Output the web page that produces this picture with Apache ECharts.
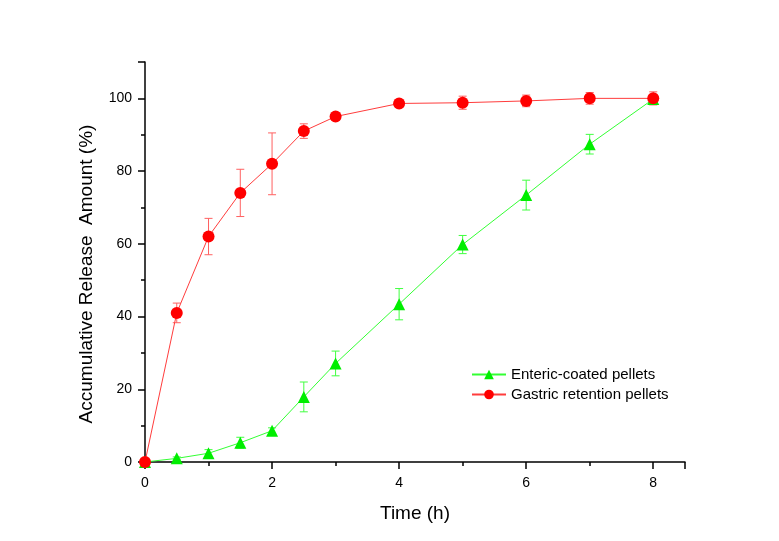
<!DOCTYPE html>
<html>
<head>
<meta charset="utf-8">
<script src="https://cdn.jsdelivr.net/npm/echarts@6/dist/echarts.min.js"></script>
<style>
  html, body { margin: 0; padding: 0; background: #fff; }
  #chart { width: 779px; height: 541px; }
</style>
</head>
<body>
<div id="chart"></div>
<script>
// time points (h)
const times = [0, 0.5, 1, 1.5, 2, 2.5, 3, 4, 5, 6, 7, 8];
const gastric = [0, 41, 62, 74, 82, 91, 95, 98.6, 98.8, 99.3, 100, 100];
const gastricErr = [0, 2.7, 5, 6.5, 8.5, 2, 0.6, 0.5, 1.8, 1.6, 1.6, 1.8];
const enteric = [0, 1, 2.4, 5.3, 8.6, 17.9, 27.1, 43.4, 59.8, 73.4, 87.4, 99.8];
const entericErr = [0, 0.4, 1, 1.5, 0.8, 4.1, 3.4, 4.3, 2.5, 4.1, 2.7, 1];

const font = 'Liberation Sans, Arial, sans-serif';

function pts(ys) {
  return times.map((t, i) => [t, ys[i]]);
}
function errPts(ys, es) {
  return times.map((t, i) => [t, ys[i] - es[i], ys[i] + es[i]]);
}

// vertical error bar with caps
function errorBar(color) {
  return function (params, api) {
    const lo = api.coord([api.value(0), api.value(1)]);
    const hi = api.coord([api.value(0), api.value(2)]);
    const w = 4;
    const style = { stroke: color, lineWidth: 1 };
    return {
      type: 'group',
      children: [
        { type: 'line', shape: { x1: hi[0], y1: hi[1], x2: lo[0], y2: lo[1] }, style: style },
        { type: 'line', shape: { x1: hi[0] - w, y1: hi[1], x2: hi[0] + w, y2: hi[1] }, style: style },
        { type: 'line', shape: { x1: lo[0] - w, y1: lo[1], x2: lo[0] + w, y2: lo[1] }, style: style }
      ]
    };
  };
}

const chart = echarts.init(document.getElementById('chart'), null, { renderer: 'canvas' });

chart.setOption({
  backgroundColor: '#fff',
  animation: false,
  grid: { left: 145, right: 94, top: 62, bottom: 79 },
  legend: {
    left: 466, top: 362,
    orient: 'vertical',
    itemGap: 5,
    itemWidth: 34, itemHeight: 12,
    textStyle: { fontFamily: font, fontSize: 15, color: '#000' },
    data: ['Enteric-coated pellets', 'Gastric retention pellets']
  },
  xAxis: {
    type: 'value',
    min: 0, max: 8.5, interval: 2,
    name: 'Time (h)',
    nameLocation: 'middle',
    nameGap: 42,
    nameTextStyle: { fontFamily: font, fontSize: 19, color: '#000' },
    axisLine: { lineStyle: { color: '#000', width: 1.5 } },
    axisTick: { length: 7, lineStyle: { color: '#000', width: 1.5 } },
    minorTick: { show: true, splitNumber: 2, length: 4, lineStyle: { color: '#000', width: 1.5 } },
    axisLabel: { fontFamily: font, fontSize: 14, color: '#000', margin: 14, showMaxLabel: false },
    splitLine: { show: false }
  },
  yAxis: {
    type: 'value',
    min: 0, max: 110, interval: 20,
    name: 'Accumulative Release  Amount (%)',
    nameLocation: 'middle',
    nameGap: 49,
    // name sits a bit below the axis middle
    nameTextStyle: { fontFamily: font, fontSize: 19, color: '#000', padding: [0, 24, 0, 0] },
    axisLine: { show: true, lineStyle: { color: '#000', width: 1.5 } },
    axisTick: { show: true, length: 7, lineStyle: { color: '#000', width: 1.5 } },
    minorTick: { show: true, splitNumber: 2, length: 4, lineStyle: { color: '#000', width: 1.5 } },
    axisLabel: { fontFamily: font, fontSize: 14, color: '#000', margin: 13, showMaxLabel: false },
    splitLine: { show: false }
  },
  series: [
    {
      type: 'custom',
      name: 'gastricErr',
      renderItem: errorBar('#ff6060'),
      data: errPts(gastric, gastricErr),
      encode: { x: 0, y: [1, 2] },
      z: 1
    },
    {
      type: 'custom',
      name: 'entericErr',
      renderItem: errorBar('#40ff40'),
      data: errPts(enteric, entericErr),
      encode: { x: 0, y: [1, 2] },
      z: 1
    },
    {
      name: 'Enteric-coated pellets',
      type: 'line',
      data: pts(enteric),
      symbol: 'triangle',
      symbolSize: 12,
      itemStyle: { color: '#00ee00' },
      lineStyle: { color: '#33ff33', width: 1 },
      z: 3
    },
    {
      name: 'Gastric retention pellets',
      type: 'line',
      data: pts(gastric),
      symbol: 'circle',
      symbolSize: 12,
      itemStyle: { color: '#ff0000' },
      lineStyle: { color: '#ff3c3c', width: 1 },
      z: 4
    }
  ]
});
</script>
</body>
</html>
